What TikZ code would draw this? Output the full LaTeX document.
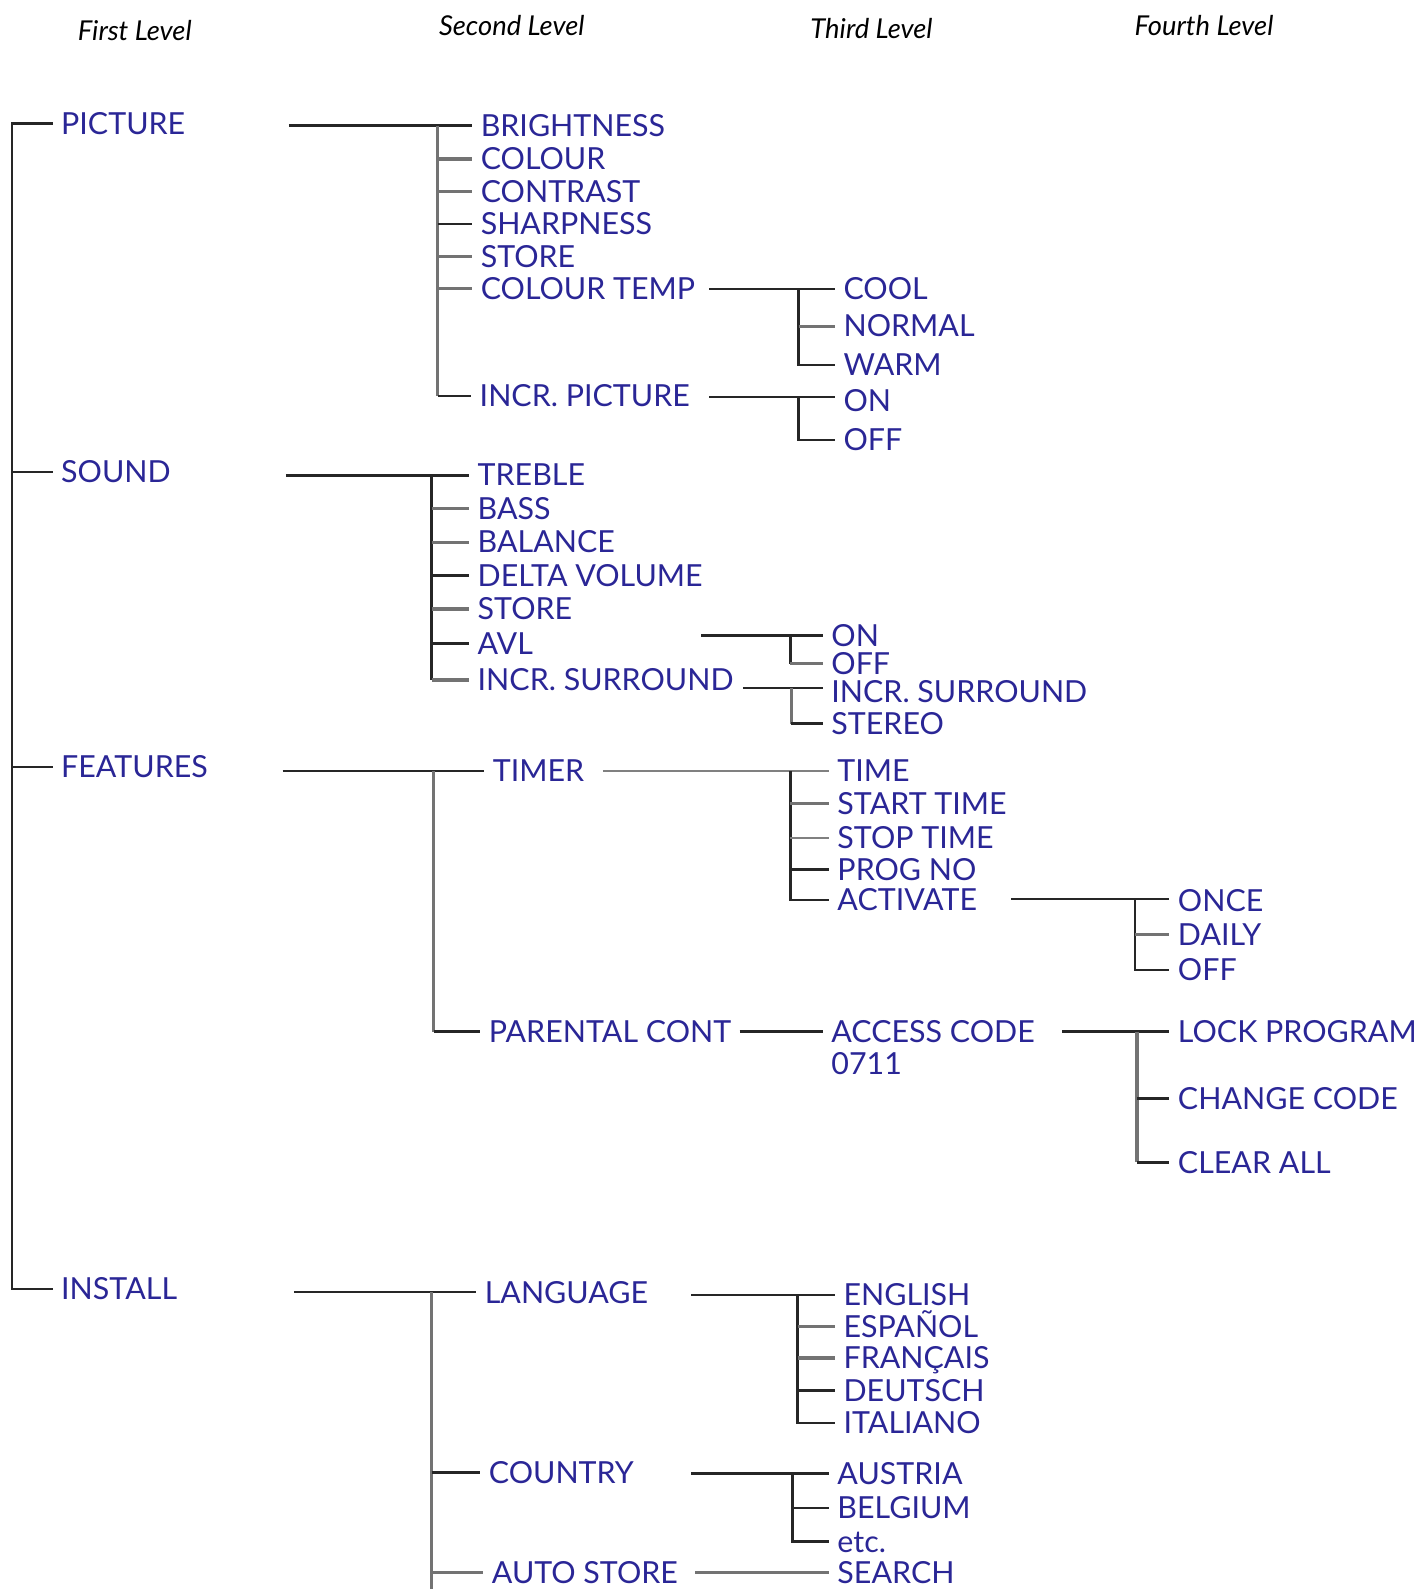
\documentclass[tikz,border=0pt]{standalone}
\usepackage{fontspec}
\setmainfont{Lato}
\definecolor{menublue}{RGB}{42,38,150}

\begin{document}
\begin{tikzpicture}[x=0.5pt,y=-0.5pt,
  item/.style={anchor=west,inner sep=4pt,text=menublue,font=\fontsize{15}{17}\selectfont,text height=10.5pt,text depth=0pt},
  head/.style={font=\itshape\fontsize{13.5}{16}\selectfont},
  link/.style={line width=1.2pt,black!85},
  glink/.style={line width=1.6pt,black!55},
  tlink/.style={line width=0.8pt,black!50}]
\useasboundingbox (0,0) rectangle (1407,1568);

\node[head] (h1) at (133,30) {First Level};
\node[head] (h2) at (505,25) {Second Level};
\node[head] (h3) at (860,28) {Third Level};
\node[head] (h4) at (1188,25) {Fourth Level};

\node[item] (picture) at (52,122) {PICTURE};
\node[item] (sound) at (52,466) {SOUND};
\node[item] (features) at (52,757) {FEATURES};
\node[item] (install) at (52,1272) {INSTALL};
\coordinate (root) at (12,122);

\node[item] (brightness) at (466,124) {BRIGHTNESS};
\node[item] (colour) at (466,157) {COLOUR};
\node[item] (contrast) at (466,189) {CONTRAST};
\node[item] (sharpness) at (466,221) {SHARPNESS};
\node[item] (store) at (466,253) {STORE};
\node[item] (colourtemp) at (466,285) {COLOUR TEMP};
\node[item] (incrpicture) at (465,391) {INCR. PICTURE};
\coordinate (pictureS) at (285,124);
\coordinate (pictureB) at (432,124);

\node[item] (cool) at (824,285) {COOL};
\node[item] (normal) at (824,322) {NORMAL};
\node[item] (warm) at (824,360) {WARM};
\coordinate (ctempS) at (700,285);
\coordinate (ctempB) at (788,285);
\node[item] (on) at (824,396) {ON};
\node[item] (off) at (824,434) {OFF};
\coordinate (ipicS) at (700,392);
\coordinate (ipicB) at (788,392);

\node[item] (treble) at (463,469) {TREBLE};
\node[item] (bass) at (463,502) {BASS};
\node[item] (balance) at (463,535) {BALANCE};
\node[item] (deltavolume) at (463,568) {DELTA VOLUME};
\node[item] (store2) at (463,601) {STORE};
\node[item] (avl) at (463,635) {AVL};
\node[item] (incrsurround) at (463,671) {INCR. SURROUND};
\coordinate (soundS) at (282,469);
\coordinate (soundB) at (426,469);

\node[item] (on2) at (812,627) {ON};
\node[item] (off2) at (812,655) {OFF};
\coordinate (avlS) at (692,627);
\coordinate (avlB) at (780,627);
\node[item] (incrsurround2) at (812,683) {INCR. SURROUND};
\node[item] (stereo) at (812,714) {STEREO};
\coordinate (isurS) at (733,679);
\coordinate (isurB) at (781,679);

\node[item] (timer) at (478,761) {TIMER};
\node[item] (parental) at (474,1018) {PARENTAL CONT};
\coordinate (featS) at (279,761);
\coordinate (featB) at (428,761);

\node[item] (time) at (818,761) {TIME};
\node[item] (starttime) at (818,793) {START TIME};
\node[item] (stoptime) at (818,827) {STOP TIME};
\node[item] (progno) at (818,858) {PROG NO};
\node[item] (activate) at (818,888) {ACTIVATE};
\coordinate (timerS) at (595,761);
\coordinate (timerB) at (780,761);

\node[item] (once) at (1154,889) {ONCE};
\node[item] (daily) at (1154,922) {DAILY};
\node[item] (off3) at (1154,957) {OFF};
\coordinate (actS) at (998,887);
\coordinate (actB) at (1120,887);

\node[item] (access) at (812,1018) {ACCESS CODE};
\node[item] (code) at (812,1050) {0711};
\node[item] (lock) at (1154,1018) {LOCK PROGRAM};
\node[item] (change) at (1154,1084) {CHANGE CODE};
\node[item] (clear) at (1154,1147) {CLEAR ALL};
\coordinate (accS) at (1048,1018);
\coordinate (accB) at (1122,1018);

\node[item] (language) at (470,1276) {LANGUAGE};
\node[item] (country) at (474,1453) {COUNTRY};
\node[item] (autostore) at (477,1552) {AUTO STORE};
\coordinate (instS) at (290,1275);
\coordinate (instB) at (426,1275);
\coordinate (instE) at (426,1600);

\node[item] (english) at (824,1278) {ENGLISH};
\node[item] (espanol) at (824,1309) {ESPAÑOL};
\node[item] (francais) at (824,1340) {FRANÇAIS};
\node[item] (deutsch) at (824,1372) {DEUTSCH};
\node[item] (italiano) at (824,1404) {ITALIANO};
\coordinate (langS) at (682,1278);
\coordinate (langB) at (787,1278);

\node[item] (austria) at (818,1454) {AUSTRIA};
\node[item] (belgium) at (818,1488) {BELGIUM};
\node[item] (etc) at (818,1521) {etc.};
\coordinate (ctryS) at (682,1454);
\coordinate (ctryB) at (782,1454);
\node[item] (search) at (818,1552) {SEARCH};
\coordinate (astoreS) at (686,1552);

\draw[link] (picture.west) -| (root) |- (install.west);
\draw[link] (sound.west) -- (sound.west -| root);
\draw[link] (features.west) -- (features.west -| root);

\draw[link] (pictureS) -- (brightness.west);
\draw[glink] (pictureB) -- (pictureB |- incrpicture.west);
\draw[glink] (pictureB |- colour.west) -- (colour.west);
\draw[glink] (pictureB |- contrast.west) -- (contrast.west);
\draw[link] (pictureB |- sharpness.west) -- (sharpness.west);
\draw[glink] (pictureB |- store.west) -- (store.west);
\draw[glink] (pictureB |- colourtemp.west) -- (colourtemp.west);
\draw[link] (pictureB |- incrpicture.west) -- (incrpicture.west);

\draw[link] (ctempS) -- (cool.west);
\draw[link] (ctempB) |- (warm.west);
\draw[glink] (ctempB |- normal.west) -- (normal.west);
\draw[link] (ipicS) -- (ipicS -| on.west);
\draw[link] (ipicB) |- (off.west);

\draw[link] (soundS) -- (treble.west);
\draw[link] (soundB) -- (soundB |- incrsurround.west);
\draw[glink] (soundB |- bass.west) -- (bass.west);
\draw[glink] (soundB |- balance.west) -- (balance.west);
\draw[link] (soundB |- deltavolume.west) -- (deltavolume.west);
\draw[glink] (soundB |- store2.west) -- (store2.west);
\draw[link] (soundB |- avl.west) -- (avl.west);
\draw[glink] (soundB |- incrsurround.west) -- (incrsurround.west);

\draw[link] (avlS) -- (on2.west);
\draw[link] (avlB) -- (avlB |- off2.west);
\draw[glink] (avlB |- off2.west) -- (off2.west);
\draw[link] (isurS) -- (isurS -| incrsurround2.west);
\draw[glink] (isurB) -- (isurB |- stereo.west);
\draw[link] (isurB |- stereo.west) -- (stereo.west);

\draw[link] (featS) -- (timer.west);
\draw[glink] (featB) -- (featB |- parental.west);
\draw[link] (featB |- parental.west) -- (parental.west);

\draw[tlink] (timerS) -- (time.west);
\draw[link] (timerB) |- (activate.west);
\draw[glink] (timerB |- starttime.west) -- (starttime.west);
\draw[tlink] (timerB |- stoptime.west) -- (stoptime.west);
\draw[link] (timerB |- progno.west) -- (progno.west);

\draw[link] (actS) -- (actS -| once.west);
\draw[link] (actB) |- (off3.west);
\draw[glink] (actB |- daily.west) -- (daily.west);

\draw[link] (parental.east) -- (access.west);
\draw[link] (accS) -- (lock.west);
\draw[glink] (accB) -- (accB |- clear.west);
\draw[link] (accB |- change.west) -- (change.west);
\draw[link] (accB |- clear.west) -- (clear.west);

\draw[link] (instS) -- (instS -| language.west);
\draw[glink] (instB) -- (instE);
\draw[link] (instB |- country.west) -- (country.west);
\draw[glink] (instB |- autostore.west) -- (autostore.west);

\draw[link] (langS) -- (english.west);
\draw[link] (langB) |- (italiano.west);
\draw[glink] (langB |- espanol.west) -- (espanol.west);
\draw[glink] (langB |- francais.west) -- (francais.west);
\draw[link] (langB |- deutsch.west) -- (deutsch.west);

\draw[link] (ctryS) -- (austria.west);
\draw[link] (ctryB) |- (etc.west);
\draw[link] (ctryB |- belgium.west) -- (belgium.west);
\draw[glink] (astoreS) -- (search.west);
\end{tikzpicture}
\end{document}
